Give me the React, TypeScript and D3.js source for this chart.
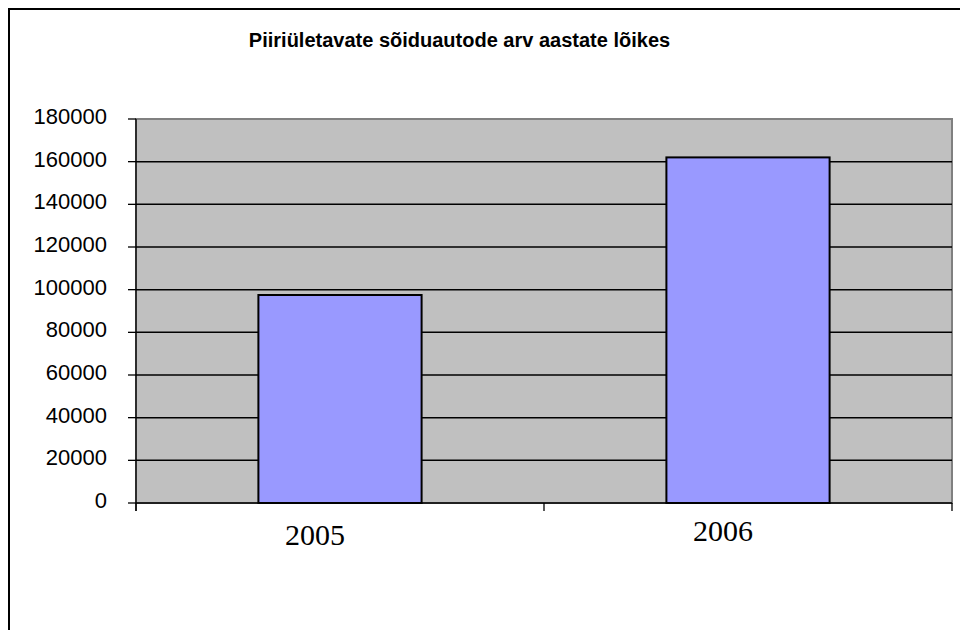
import React from "react";
import * as d3 from "d3";

const title = "Piiriületavate sõiduautode arv aastate lõikes";
const categories = ["2005", "2006"];
const values = [97500, 162000];
const yTicks = [0, 20000, 40000, 60000, 80000, 100000, 120000, 140000, 160000, 180000];

export default function App() {
  const W = 960, H = 630;
  const left = 136, right = 952, top = 119, bottom = 503;
  const x = d3.scaleBand<string>().domain(categories).range([left, right]).paddingInner(0.6).paddingOuter(0.3);
  const y = d3.scaleLinear().domain([0, 180000]).range([bottom, top]);
  const boundaries = d3.range(categories.length + 1).map((i) => left + i * ((right - left) / categories.length));
  return (
    <svg width={W} height={H} style={{ position: "absolute", left: 0, top: 0, background: "#fff" }}>
      <rect x={0} y={0} width={W} height={H} fill="#fff" />
      {/* outer frame */}
      <line x1={9} x2={W} y1={9} y2={9} stroke="#000" strokeWidth={2} />
      <line x1={9} x2={9} y1={8} y2={H} stroke="#000" strokeWidth={2} />
      <text x={459.5} y={47} textAnchor="middle" fontFamily="Liberation Sans, Arial, sans-serif" fontWeight="bold" fontSize={20} fill="#000">
        {title}
      </text>
      {/* plot area */}
      <rect x={left} y={top} width={right - left} height={bottom - top} fill="#c0c0c0" stroke="#808080" strokeWidth={2} />
      {yTicks.map((t) => (
        <g key={t}>
          {t > 0 && t < 180000 && (
            <line x1={left} x2={right} y1={y(t)} y2={y(t)} stroke="#000" strokeWidth={1.5} />
          )}
          <line x1={128} x2={left} y1={y(t)} y2={y(t)} stroke="#000" strokeWidth={1.3} />
          <text x={107} y={y(t) + 5} textAnchor="end" fontFamily="Liberation Sans, Arial, sans-serif" fontSize={22} fill="#000">
            {t}
          </text>
        </g>
      ))}
      {/* bars */}
      {categories.map((c, i) => (
        <rect key={c} x={x(c)!} y={y(values[i])} width={x.bandwidth()} height={bottom - y(values[i])} fill="#9999ff" stroke="#000" strokeWidth={2} />
      ))}
      {/* axes */}
      <line x1={left} x2={left} y1={top} y2={511} stroke="#000" strokeWidth={1.3} />
      <line x1={left} x2={right} y1={bottom} y2={bottom} stroke="#000" strokeWidth={1.5} />
      {boundaries.map((b, i) => (
        <line key={i} x1={b} x2={b} y1={bottom} y2={511} stroke="#000" strokeWidth={1.3} />
      ))}
      {categories.map((c, i) => (
        <text key={c} x={x(c)! + x.bandwidth() / 2 - 25} y={i === 0 ? 545 : 541} textAnchor="middle" fontFamily="Liberation Serif, Times New Roman, serif" fontSize={30} fill="#000">
          {c}
        </text>
      ))}
    </svg>
  );
}
